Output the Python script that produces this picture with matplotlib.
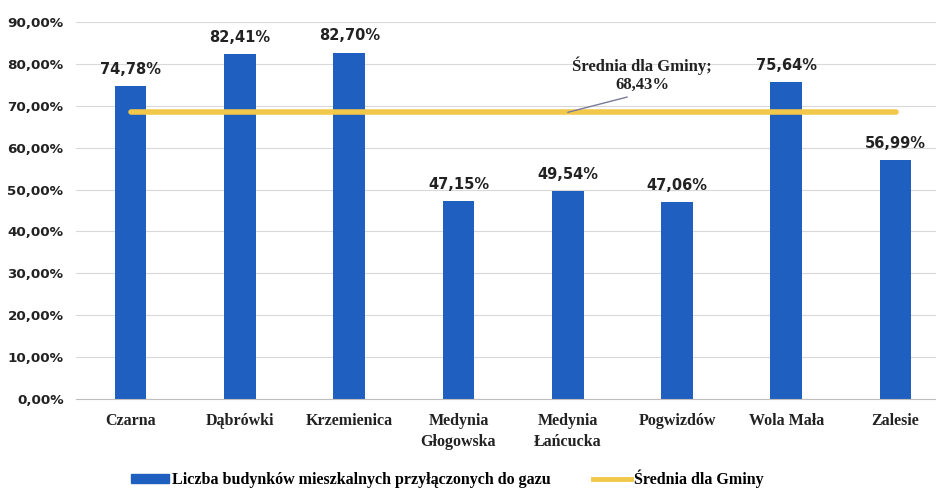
import numpy as np
import matplotlib.pyplot as plt
from matplotlib.lines import Line2D
from matplotlib.patches import Patch

# data
categories = ['Czarna', 'Dąbrówki', 'Krzemienica', 'Medynia\nGłogowska', 'Medynia\nŁańcucka',
              'Pogwizdów', 'Wola Mała', 'Zalesie']
values = [74.78, 82.41, 82.70, 47.15, 49.54, 47.06, 75.64, 56.99]
average = 68.43
yticks = [0, 10, 20, 30, 40, 50, 60, 70, 80, 90]

bar_color = '#1f5fc0'
avg_color = '#f2c84b'
serif = ['Liberation Serif', 'DejaVu Serif']

fig = plt.figure(figsize=(9.36, 4.91), dpi=100)
ax = fig.add_axes([76/936, 1 - 399/491, 1 - 76/936, 377/491])

x = np.arange(len(categories))
ax.bar(x, values, width=0.29, color=bar_color, zorder=2)
ax.plot([x[0], x[-1]], [average, average], color=avg_color, lw=4, zorder=3,
        solid_capstyle='round')

for xi, v in zip(x, values):
    ax.text(xi, v + 2.2, '{:.2f}%'.format(v).replace('.', ','), ha='center', va='bottom',
            fontsize=10.5, fontweight='bold', color='#222222')

# label of the average line with leader
ax.annotate('Średnia dla Gminy;\n{:.2f}%'.format(average).replace('.', ','),
            xy=(4.0, average), xytext=(4.68, 73.0), ha='center', va='bottom',
            fontsize=12, fontweight='bold', family=serif, color='#222222',
            linespacing=1.2,
            arrowprops=dict(arrowstyle='-', color='#7a7a9a', lw=1.0, relpos=(0.5, 0),
                            shrinkA=3, shrinkB=0), zorder=4)

ax.set_ylim(0, 90)
ax.set_xlim(-0.5, 7.37)
ax.set_yticks(yticks)
ax.set_yticklabels(['{:.2f}%'.format(t).replace('.', ',') for t in yticks],
                   fontsize=9.7, fontweight='bold', color='#222222')
ax.set_xticks(x)
ax.set_xticklabels(categories, fontsize=11.5, fontweight='bold', family=serif,
                   color='#222222', linespacing=1.45)
ax.tick_params(axis='x', length=0, pad=10)
ax.tick_params(axis='y', length=0, pad=9)
ax.yaxis.grid(True, color='#d9d9d9', lw=0.8, zorder=0)
for s in ['top', 'right', 'left']:
    ax.spines[s].set_visible(False)
ax.spines['bottom'].set_color('#bfbfbf')

handles = [Patch(color=bar_color), Line2D([0], [0], color=avg_color, lw=3.5)]
labels = ['Liczba budynków mieszkalnych przyłączonych do gazu', 'Średnia dla Gminy']
fig.legend(handles, labels, loc='center', bbox_to_anchor=(0.478, 0.024), ncol=2,
           frameon=False, prop=dict(family=serif, weight='bold', size=11.5),
           handlelength=2.4, handleheight=0.45, handletextpad=0.2, columnspacing=2.6)

fig.savefig('out.png', dpi=100)
